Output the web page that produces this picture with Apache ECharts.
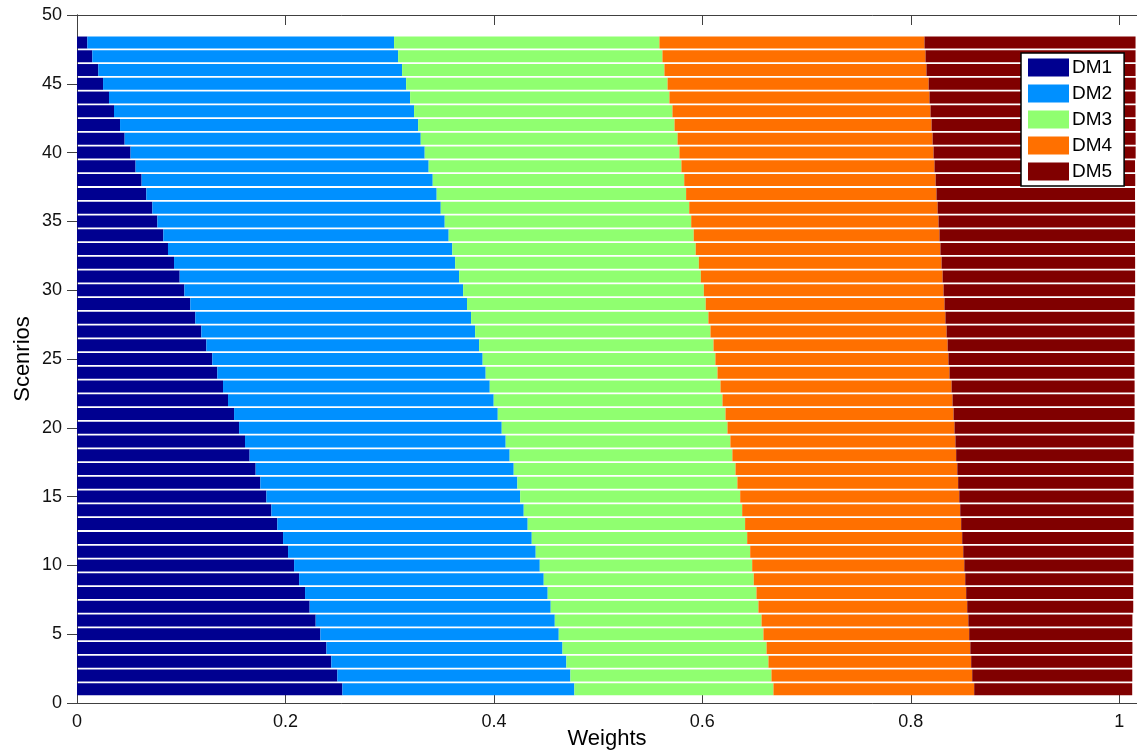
<!DOCTYPE html>
<html>
<head>
<meta charset="utf-8">
<script src="https://cdn.jsdelivr.net/npm/echarts@6/dist/echarts.min.js"></script>
<style>
html, body { margin: 0; padding: 0; background: #fff; }
#chart { width: 1137px; height: 756px; }
</style>
</head>
<body>
<div id="chart"></div>
<script>
// weights per scenario 1..48 (bottom to top)
const dm1 = [0.2546, 0.2498, 0.2440, 0.2393, 0.2335, 0.2290, 0.2232, 0.2188, 0.2131, 0.2083,
  0.2025, 0.1977, 0.1922, 0.1865, 0.1817, 0.1759, 0.1714, 0.1656, 0.1612, 0.1555,
  0.1507, 0.1449, 0.1401, 0.1346, 0.1298, 0.1241, 0.1193, 0.1135, 0.1087, 0.1030,
  0.0985, 0.0931, 0.0873, 0.0828, 0.0771, 0.0723, 0.0665, 0.0620, 0.0562, 0.0514,
  0.0457, 0.0413, 0.0355, 0.0307, 0.0250, 0.0204, 0.0147, 0.0099]
const dm2 = [0.2226, 0.2236, 0.2255, 0.2265, 0.2287, 0.2294, 0.2313, 0.2328, 0.2347, 0.2357,
  0.2376, 0.2386, 0.2402, 0.2421, 0.2435, 0.2466, 0.2476, 0.2495, 0.2501, 0.2520,
  0.2530, 0.2549, 0.2559, 0.2575, 0.2594, 0.2617, 0.2627, 0.2646, 0.2655, 0.2675,
  0.2681, 0.2697, 0.2728, 0.2738, 0.2757, 0.2767, 0.2786, 0.2793, 0.2812, 0.2822,
  0.2841, 0.2860, 0.2879, 0.2889, 0.2908, 0.2915, 0.2934, 0.2943]
const dm3 = [0.1910, 0.1929, 0.1939, 0.1958, 0.1964, 0.1984, 0.1993, 0.2003, 0.2015, 0.2038,
  0.2058, 0.2067, 0.2086, 0.2096, 0.2111, 0.2111, 0.2128, 0.2137, 0.2156, 0.2166,
  0.2185, 0.2195, 0.2214, 0.2224, 0.2233, 0.2249, 0.2258, 0.2277, 0.2290, 0.2309,
  0.2319, 0.2338, 0.2335, 0.2351, 0.2365, 0.2384, 0.2393, 0.2413, 0.2425, 0.2444,
  0.2464, 0.2460, 0.2479, 0.2488, 0.2508, 0.2517, 0.2536, 0.2546]
const dm4 = [0.1926, 0.1926, 0.1945, 0.1955, 0.1974, 0.1984, 0.2003, 0.2012, 0.2029, 0.2035,
  0.2044, 0.2063, 0.2073, 0.2092, 0.2102, 0.2118, 0.2128, 0.2147, 0.2159, 0.2178,
  0.2188, 0.2207, 0.2217, 0.2226, 0.2236, 0.2246, 0.2265, 0.2274, 0.2291, 0.2300,
  0.2320, 0.2329, 0.2348, 0.2358, 0.2373, 0.2383, 0.2402, 0.2412, 0.2428, 0.2438,
  0.2447, 0.2466, 0.2476, 0.2495, 0.2505, 0.2514, 0.2524, 0.2543]
const dm5 = [0.1516, 0.1536, 0.1545, 0.1555, 0.1564, 0.1574, 0.1593, 0.1603, 0.1612, 0.1622,
  0.1634, 0.1644, 0.1654, 0.1663, 0.1673, 0.1682, 0.1692, 0.1702, 0.1708, 0.1727,
  0.1737, 0.1747, 0.1756, 0.1775, 0.1785, 0.1795, 0.1804, 0.1814, 0.1823, 0.1838,
  0.1847, 0.1857, 0.1867, 0.1876, 0.1886, 0.1895, 0.1905, 0.1915, 0.1924, 0.1939,
  0.1948, 0.1958, 0.1967, 0.1977, 0.1987, 0.2006, 0.2015, 0.2025]

const names = ['DM1', 'DM2', 'DM3', 'DM4', 'DM5']
const colors = ['#000090', '#0090ff', '#90ff70', '#ff7000', '#800000']
const yMax = 50 // y axis runs 0..50, scenarios sit on 1..48

// category slots 0..50 so that scenario k lands on tick k
const slots = []
for (let i = 0; i <= yMax; i++) slots.push(String(i))
function pad(arr) {
  return slots.map((s, i) => (i >= 1 && i <= arr.length ? arr[i - 1] : '-'))
}

const axisColor = '#404040'
const chart = echarts.init(document.getElementById('chart'))
chart.setOption({
  animation: false,
  backgroundColor: '#fff',
  textStyle: { fontFamily: 'Liberation Sans, Arial, sans-serif' },
  grid: { left: 77, right: 0, top: 15, bottom: 53, containLabel: false, outerBoundsMode: 'none' },
  legend: {
    data: names,
    orient: 'vertical',
    left: 1021,
    top: 53,
    itemWidth: 41,
    itemHeight: 18,
    itemGap: 7,
    icon: 'rect',
    padding: [5, 12, 5, 7],
    backgroundColor: '#fff',
    borderColor: '#000',
    borderWidth: 1.5,
    borderRadius: 0,
    textStyle: { fontSize: 19, lineHeight: 18, color: '#000', padding: [0, 0, 0, -2] }
  },
  xAxis: [
    {
      type: 'value',
      min: 0,
      max: 1.017,
      interval: 0.2,
      name: 'Weights',
      nameLocation: 'middle',
      nameGap: 25,
      nameMoveOverlap: false,
      nameTextStyle: { fontSize: 22, color: '#000' },
      splitLine: { show: false },
      axisLine: { show: true, lineStyle: { color: axisColor, width: 1 } },
      axisTick: { show: true, inside: true, length: 10, lineStyle: { color: axisColor } },
      axisLabel: {
        fontSize: 18, color: '#111', margin: 10,
        formatter: v => (v > 1.001 ? '' : String(v))
      }
    },
    {
      type: 'value',
      position: 'top',
      min: 0,
      max: 1.017,
      interval: 0.2,
      splitLine: { show: false },
      axisLine: { show: true, lineStyle: { color: axisColor, width: 1 } },
      axisTick: { show: true, inside: true, length: 10, lineStyle: { color: axisColor } },
      axisLabel: { show: false }
    }
  ],
  yAxis: [
    {
      type: 'category',
      data: slots,
      boundaryGap: false,
      name: 'Scenrios',
      nameLocation: 'middle',
      nameGap: 43,
      nameMoveOverlap: false,
      nameTextStyle: { fontSize: 22, color: '#000' },
      axisLine: { show: true, lineStyle: { color: axisColor, width: 1 } },
      axisTick: { show: false },
      axisLabel: { interval: 4, fontSize: 18, color: '#111', margin: 15 },
      splitLine: { show: false }
    },
    {
      type: 'category',
      data: slots,
      boundaryGap: false,
      position: 'right',
      axisLine: { show: true, lineStyle: { color: axisColor, width: 1 } },
      axisTick: { show: true, inside: true, length: 10, interval: 4, lineStyle: { color: axisColor } },
      axisLabel: { show: false },
      splitLine: { show: false }
    }
  ],
  series: [dm1, dm2, dm3, dm4, dm5].map((arr, i) => ({
    name: names[i],
    type: 'bar',
    stack: 'w',
    xAxisIndex: 0,
    yAxisIndex: 0,
    barWidth: 12,
    itemStyle: { color: colors[i] },
    data: pad(arr)
  }))
})
</script>
</body>
</html>
